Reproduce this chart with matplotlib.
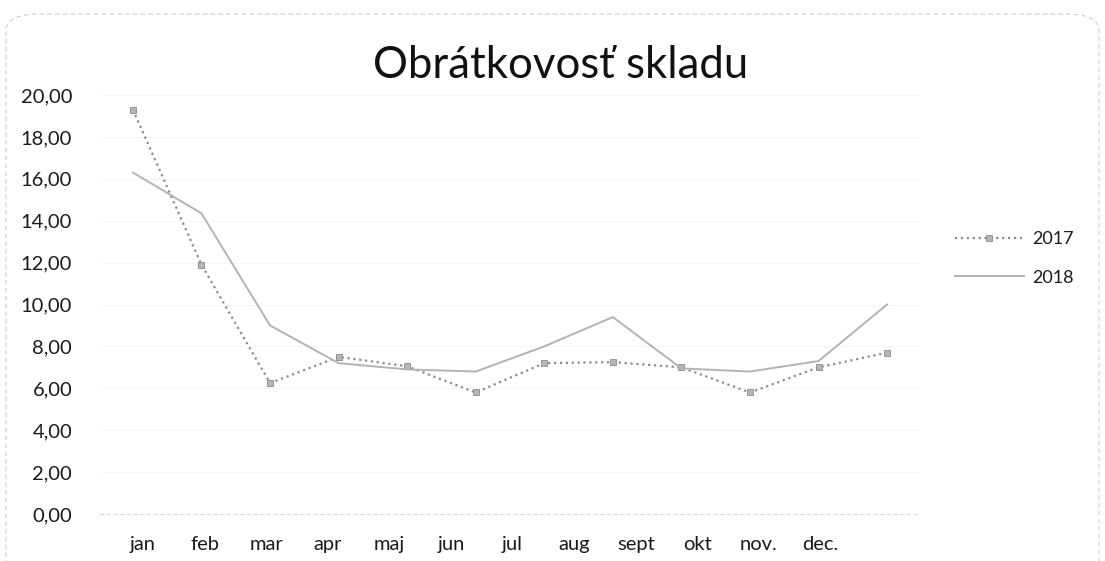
import matplotlib.pyplot as plt
from matplotlib.patches import FancyBboxPatch

plt.rcParams['font.family'] = ['Lato', 'DejaVu Sans']

# data
months = ['jan', 'feb', 'mar', 'apr', 'maj', 'jun', 'jul', 'aug', 'sept', 'okt', 'nov.', 'dec.']
obr_2017 = [19.3, 11.9, 6.25, 7.5, 7.05, 5.8, 7.2, 7.25, 7.0, 5.8, 7.0, 7.7]
obr_2018 = [16.3, 14.35, 9.0, 7.2, 6.9, 6.8, 8.0, 9.4, 6.95, 6.8, 7.3, 10.0]
y_ticks = [0, 2, 4, 6, 8, 10, 12, 14, 16, 18, 20]

W, H = 1105, 561
fig = plt.figure(figsize=(W / 100, H / 100), dpi=100)
ax = fig.add_axes([100 / W, (H - 514) / H, 820 / W, 419 / H])

x = list(range(len(months)))
ax.plot(x, obr_2017, linestyle=':', color='#8c8c8c', lw=1.6,
        marker='s', ms=4, mfc='#b5b5b5', mec='#8c8c8c', mew=0.6, label='2017')
ax.plot(x, obr_2018, linestyle='-', color='#b3b3b3', lw=1.4, label='2018')

ax.set_xlim(-0.48, 11.48)
ax.set_ylim(0, 20)
ax.set_yticks(y_ticks)
ax.set_yticklabels([f'{v:.2f}'.replace('.', ',') for v in y_ticks])
ax.tick_params(axis='y', length=0, pad=20, labelsize=14.5, labelcolor='#1a1a1a')
ax.set_xticks([])
ax.grid(axis='y', color='#f4f4f4', lw=0.6)
for s in ['top', 'right', 'left']:
    ax.spines[s].set_visible(False)
ax.spines['bottom'].set_color('#d9d9d9')
ax.spines['bottom'].set_linestyle((0, (3, 3)))
ax.spines['bottom'].set_linewidth(0.8)

# month labels in the scan sit on a tighter spacing than the data points
def to_lab(v):
    return (133 + 68.5 * v - 143) / 61.55

def from_lab(s):
    return (143 + 61.55 * s - 133) / 68.5

sec = ax.secondary_xaxis('bottom', functions=(to_lab, from_lab))
sec.set_xticks(x)
sec.set_xticklabels(months)
sec.tick_params(length=0, pad=16, labelsize=14.5, labelcolor='#1a1a1a')
sec.spines['bottom'].set_visible(False)

fig.text(561 / W, 1 - 66 / H, 'Obrátkovosť skladu', ha='center', va='center',
         fontsize=31.5, color='#111111')

fig.legend(loc='upper left', bbox_to_anchor=(955 / W, 1 - 231 / H),
           frameon=False, borderpad=0, borderaxespad=0, fontsize=13,
           handlelength=3.8, handletextpad=0.45, labelspacing=1.25,
           numpoints=1, labelcolor='#1a1a1a')

border = FancyBboxPatch((6 / W, -0.1), (W - 12) / W, 1.1 - 14 / H,
                        boxstyle='round,pad=0,rounding_size=0.03',
                        transform=fig.transFigure, fill=False,
                        ec='#cfcfcf', lw=0.8, linestyle=(0, (4, 3)))
fig.patches.append(border)

fig.savefig('out.png', dpi=100)
